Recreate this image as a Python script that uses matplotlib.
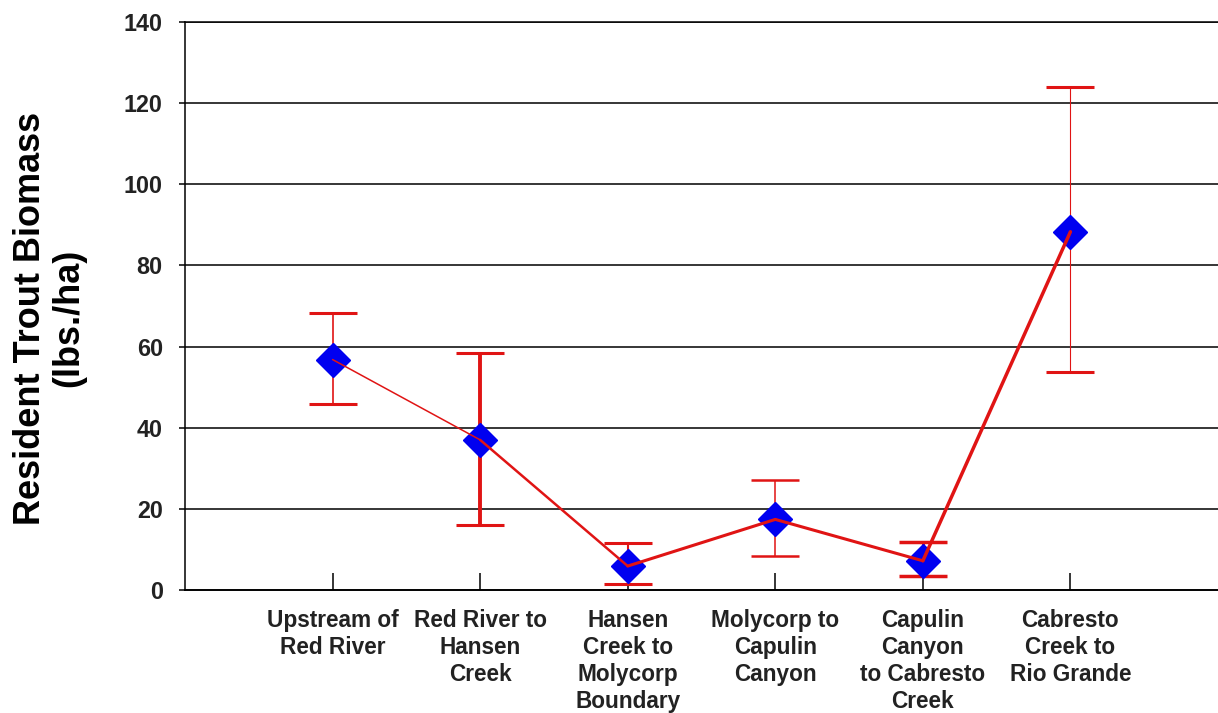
import numpy as np
import matplotlib.pyplot as plt

plt.rcParams['font.family'] = ['Liberation Sans', 'DejaVu Sans']
plt.rcParams['font.weight'] = 'bold'

# stream reaches, upstream to downstream
sites = ['Upstream of\nRed River',
         'Red River to\nHansen\nCreek',
         'Hansen\nCreek to\nMolycorp\nBoundary',
         'Molycorp to\nCapulin\nCanyon',
         'Capulin\nCanyon\nto Cabresto\nCreek',
         'Cabresto\nCreek to\nRio Grande']

# mean resident trout biomass (lbs./ha) with upper / lower bounds
biomass = [56.8, 37.0, 5.9, 17.4, 7.2, 88.3]
upper = [68.2, 58.5, 11.5, 27.1, 11.9, 124.1]
lower = [45.8, 16.0, 1.4, 8.5, 3.5, 53.7]

yticks = [0, 20, 40, 60, 80, 100, 120, 140]

# line weights (pt) that vary from reach to reach
bar_lw = [1.2, 2.8, 1.5, 1.1, 2.2, 0.8]
cap_lw = [2.2, 2.2, 2.2, 1.8, 2.5, 2.2]
seg_lw = [1.1, 1.8, 2.2, 2.2, 2.5]

red = '#e01414'
blue = '#0000f0'

W, H = 1218, 713
fig = plt.figure(figsize=(W / 100, H / 100), dpi=100)
ax = fig.add_axes([185 / W, 1 - 590 / H, 1 - 185 / W, (590 - 22) / H])

x = np.arange(1, len(sites) + 1)

# horizontal grid
for v in yticks[1:]:
    ax.axhline(v, color='black', lw=1.1, zorder=1)

# error bars, each with its own weight
for i in range(len(sites)):
    lo = biomass[i] - lower[i]
    hi = upper[i] - biomass[i]
    ax.errorbar(x[i], biomass[i], yerr=[[lo], [hi]], fmt='none',
                ecolor=red, elinewidth=bar_lw[i], capsize=17,
                capthick=cap_lw[i], zorder=2)

ax.plot(x, biomass, linestyle='None', marker='D', markersize=17.5,
        color=blue, markeredgecolor=blue, zorder=3)

# connecting line drawn segment by segment
for i in range(len(sites) - 1):
    ax.plot(x[i:i + 2], biomass[i:i + 2], color=red, lw=seg_lw[i],
            solid_capstyle='round', zorder=4)

ax.set_xlim(0, 7)
ax.set_ylim(0, 140)
ax.set_xticks(x)
ax.set_xticklabels(sites, fontsize=16.3, linespacing=1.22, color='#222222')
ax.set_yticks(yticks)
ax.set_yticklabels([str(v) for v in yticks], fontsize=16.8, color='#222222')

ax.tick_params(axis='x', direction='in', length=12, width=1.1, pad=13.5)
ax.tick_params(axis='y', direction='out', length=4, width=1.1, pad=12)

ax.spines['right'].set_visible(False)
ax.spines['top'].set_linewidth(1.1)
ax.spines['left'].set_linewidth(1.1)
ax.spines['bottom'].set_linewidth(1.4)

fig.text(50 / W, 1 - 318 / H, 'Resident Trout Biomass\n(lbs./ha)',
         rotation=90, ha='center', va='center', multialignment='center',
         fontsize=26, linespacing=1.12, color='black')

fig.savefig('out.png', dpi=100)
